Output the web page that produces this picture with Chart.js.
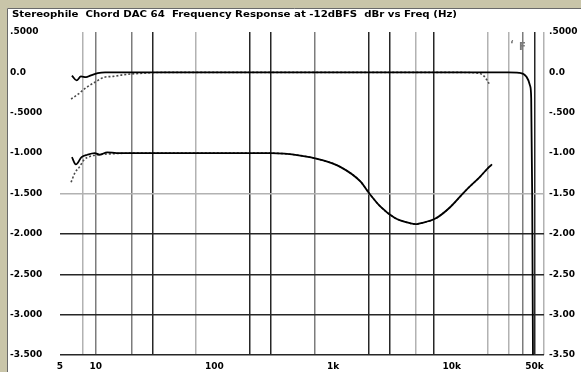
<!DOCTYPE html>
<html>
<head>
<meta charset="utf-8">
<script src="https://cdn.jsdelivr.net/npm/chart.js@4.4.1/dist/chart.umd.min.js"></script>
<style>
  html, body { margin: 0; padding: 0; background: #c9c5a9; }
</style>
</head>
<body>
<canvas id="chart" width="581" height="372"></canvas>
<script>
// Chord DAC 64 frequency response, two channels at 0 dB and the de-emphasis run at -1 dB

var topSolidFreq = [6.3, 6.9, 7.5, 8.3, 9.0, 10.4, 12, 15, 20, 100, 1000, 10000, 30000, 37000, 42500, 45900, 46800, 47700, 48600];
var topSolidDb = [-0.04, -0.10, -0.05, -0.06, -0.04, -0.01, 0, 0, 0, 0, 0, 0, 0, -0.005, -0.05, -0.17, -0.32, -1.5, -4.0];

var topDotFreq = [6.2, 7.1, 8.3, 9.9, 11.8, 14, 17, 25, 40, 1000, 10000, 17000, 18800, 19700, 20700];
var topDotDb = [-0.33, -0.27, -0.19, -0.12, -0.06, -0.05, -0.03, -0.01, 0, 0, 0, -0.01, -0.05, -0.09, -0.14];

var lowSolidFreq = [6.3, 6.8, 7.6, 8.5, 9.8, 10.8, 12.5, 15, 20, 100, 300, 530, 780, 1150, 1700, 2000, 2500, 3300, 4500, 5000, 5400, 7300, 9700, 13000, 17400, 20700, 21900];
var lowSolidDb = [-1.05, -1.14, -1.05, -1.02, -1.0, -1.02, -0.99, -1.0, -1.0, -1.0, -1.0, -1.03, -1.08, -1.17, -1.35, -1.49, -1.66, -1.80, -1.87, -1.88, -1.87, -1.81, -1.67, -1.47, -1.29, -1.17, -1.14];

var lowDotFreq = [6.2, 6.7, 7.3, 8.0, 9.0, 10.4, 13, 20, 100, 300, 530, 780, 1150, 1700, 2000, 2500, 3300, 4500, 5000, 5400, 7300, 9700, 13000, 17400, 20700];
var lowDotDb = [-1.36, -1.24, -1.17, -1.08, -1.04, -1.02, -1.01, -1.0, -1.0, -1.0, -1.03, -1.08, -1.17, -1.35, -1.49, -1.66, -1.80, -1.87, -1.88, -1.87, -1.81, -1.67, -1.47, -1.29, -1.17];

// frequency axis: where lines are drawn, what they say, how dark they are
var xTickValues = [5, 7.8, 10, 20, 30, 70, 100, 200, 300, 700, 1000, 2000, 3000, 5000, 7000, 10000, 20000, 30000, 40000, 50000, 60000];
var xTickLabels = ["5", "", "10", "", "", "", "100", "", "", "", "1k", "", "", "", "", "10k", "", "", "", "50k", ""];
var xGridShade = ["none", "light", "mid", "mid", "dark", "light", "none", "dark", "dark", "mid", "none", "dark", "dark", "light", "dark", "none", "light", "light", "mid", "dark", "light"];

// level axis
var yTickValues = [0.5, 0, -0.5, -1, -1.5, -2, -2.5, -3, -3.5];
var yLeftLabels = [".5000", "0.0", "-.5000", "-1.000", "-1.500", "-2.000", "-2.500", "-3.000", "-3.500"];
var yRightLabels = [".5000", "0.0", "-.500", "-1.00", "-1.50", "-2.00", "-2.50", "-3.00", "-3.50"];
var yGridShade = ["none", "none", "none", "none", "light", "dark", "dark", "dark", "dark"];

var titleText = "Stereophile  Chord DAC 64  Frequency Response at -12dBFS  dBr vs Freq (Hz)";

var shadeColor = { none: "rgba(0,0,0,0)", light: "#b2b2b2", mid: "#7c7c7c", dark: "#262626" };
var shadeWidth = { none: 0, light: 1.5, mid: 1.5, dark: 1.5 };

function pts(freqs, vals) {
  return freqs.map(function (f, i) { return { x: f, y: vals[i] }; });
}

function lineSet(freqs, vals, dotted) {
  return {
    data: pts(freqs, vals),
    borderColor: dotted ? "#4a4a4a" : "#000000",
    borderWidth: dotted ? 1.6 : 1.8,
    borderDash: dotted ? [2, 2] : [],
    pointRadius: 0,
    fill: false,
    cubicInterpolationMode: "monotone",
  };
}

var tickFont = { family: "DejaVu Sans", size: 9, weight: "bold" };

var framePlugin = {
  id: "frame",
  beforeDraw: function (chart) {
    var ctx = chart.ctx;
    ctx.save();
    ctx.fillStyle = "#c9c5a9";
    ctx.fillRect(0, 0, chart.width, chart.height);
    ctx.fillStyle = "#ffffff";
    ctx.fillRect(7, 8, chart.width - 7, chart.height - 8);
    ctx.strokeStyle = "#6a6a6a";
    ctx.lineWidth = 1;
    ctx.beginPath();
    ctx.moveTo(7.5, chart.height);
    ctx.lineTo(7.5, 8.5);
    ctx.lineTo(chart.width, 8.5);
    ctx.stroke();
    ctx.restore();
  },
  afterDraw: function (chart) {
    var ctx = chart.ctx;
    ctx.save();
    ctx.fillStyle = "#000";
    ctx.font = "bold 9px 'DejaVu Sans'";
    ctx.textBaseline = "middle";
    var w = ctx.measureText(titleText).width;
    ctx.translate(12, 14.5);
    ctx.scale(445 / w, 1);
    ctx.fillText(titleText, 0, 0);
    ctx.restore();

    // cursor marker near the top right
    ctx.save();
    ctx.fillStyle = "#7a7a7a";
    ctx.font = "bold 10px 'DejaVu Sans'";
    ctx.textBaseline = "middle";
    ctx.fillText("\u2018", 510, 45);
    ctx.fillText("F", 519, 47);
    ctx.restore();
  },
};

var canvas = document.getElementById("chart");
new Chart(canvas.getContext("2d"), {
  type: "line",
  data: {
    datasets: [
      lineSet(topSolidFreq, topSolidDb, false),
      lineSet(lowSolidFreq, lowSolidDb, false),
      lineSet(topDotFreq, topDotDb, true),
      lineSet(lowDotFreq, lowDotDb, true),
    ],
  },
  options: {
    responsive: false,
    animation: false,
    layout: { padding: { left: 10, right: 0, top: 32, bottom: 0 } },
    plugins: { legend: { display: false }, tooltip: { enabled: false } },
    scales: {
      x: {
        type: "logarithmic",
        min: 5,
        max: 60000,
        border: { display: false },
        afterBuildTicks: function (scale) {
          scale.ticks = xTickValues.map(function (v) { return { value: v }; });
        },
        afterFit: function (scale) { scale.height = 17; },
        grid: {
          drawTicks: false,
          color: function (c) {
            var i = xTickValues.indexOf(c.tick && c.tick.value);
            return i < 0 ? shadeColor.none : shadeColor[xGridShade[i]];
          },
          lineWidth: function (c) {
            var i = xTickValues.indexOf(c.tick && c.tick.value);
            return i < 0 ? 0 : shadeWidth[xGridShade[i]];
          },
        },
        ticks: {
          autoSkip: false,
          maxRotation: 0,
          padding: 6,
          color: "#000",
          font: tickFont,
          callback: function (value) {
            var i = xTickValues.indexOf(value);
            return i < 0 ? "" : xTickLabels[i];
          },
        },
      },
      y: {
        position: "left",
        min: -3.5,
        max: 0.5,
        border: { display: false },
        afterBuildTicks: function (scale) {
          scale.ticks = yTickValues.map(function (v) { return { value: v }; });
        },
        afterFit: function (scale) { scale.width = 50; },
        grid: {
          drawTicks: false,
          color: function (c) {
            var i = yTickValues.indexOf(c.tick && c.tick.value);
            return i < 0 ? shadeColor.none : shadeColor[yGridShade[i]];
          },
          lineWidth: function (c) {
            var i = yTickValues.indexOf(c.tick && c.tick.value);
            return i < 0 ? 0 : shadeWidth[yGridShade[i]];
          },
        },
        ticks: {
          crossAlign: "far",
          color: "#000",
          font: tickFont,
          callback: function (value) {
            var i = yTickValues.indexOf(value);
            return i < 0 ? "" : yLeftLabels[i];
          },
        },
      },
      y2: {
        position: "right",
        min: -3.5,
        max: 0.5,
        border: { display: false },
        afterBuildTicks: function (scale) {
          scale.ticks = yTickValues.map(function (v) { return { value: v }; });
        },
        afterFit: function (scale) { scale.width = 37; },
        grid: { display: false, drawTicks: false },
        ticks: {
          padding: 5,
          color: "#000",
          font: tickFont,
          callback: function (value) {
            var i = yTickValues.indexOf(value);
            return i < 0 ? "" : yRightLabels[i];
          },
        },
      },
    },
  },
  plugins: [framePlugin],
});
</script>
</body>
</html>
